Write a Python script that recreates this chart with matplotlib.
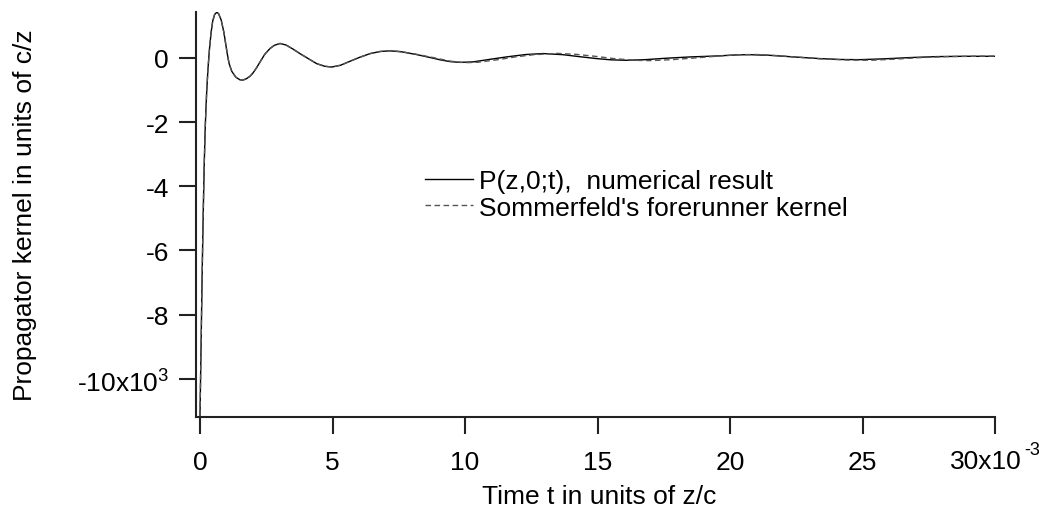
import numpy as np
import matplotlib
matplotlib.use("Agg")
import matplotlib.pyplot as plt
from matplotlib.ticker import FuncFormatter

plt.rcParams['font.family'] = ['Liberation Sans', 'DejaVu Sans']
plt.rcParams['mathtext.fontset'] = 'custom'
plt.rcParams['mathtext.rm'] = 'Liberation Sans'
plt.rcParams['axes.unicode_minus'] = False

# time in units of 1e-3 z/c, kernel in units of c/z
t_num = [0.0, 0.04, 0.08, 0.12, 0.16, 0.20, 0.25, 0.30, 0.36, 0.42, 0.48, 0.55,
         0.63, 0.70, 0.80, 0.90, 1.00, 1.05, 1.10, 1.20, 1.35, 1.50, 1.61, 1.75,
         1.89, 2.00, 2.14, 2.30, 2.45, 2.64, 2.80, 3.02, 3.25, 3.50, 3.77, 4.10,
         4.40, 4.70, 4.97, 5.30, 5.66, 6.00, 6.42, 6.80, 7.17, 7.60, 8.18, 8.80,
         9.06, 9.43, 9.81, 10.3, 10.9, 11.57, 12.3, 12.95, 13.7, 14.3, 14.97,
         15.5, 16.1, 16.8, 17.6, 18.5, 19.5, 20.3, 20.75, 21.5, 22.4, 23.4, 24.2,
         24.9, 25.8, 26.8, 27.8, 28.8, 30.0]
p_num = [-11150, -9000, -6800, -4900, -3300, -2100, -1100, -350, 300, 800, 1150, 1350,
         1420, 1380, 1180, 800, 280, 30, -180, -420, -600, -680, -695, -650,
         -570, -470, -300, -80, 120, 290, 390, 450, 400, 280, 134, -30,
         -178, -260, -285, -230, -106, 10, 134, 200, 220, 190, 103, -10,
         -60, -115, -140, -125, -50, 31, 105, 135, 100, 40, -22,
         -60, -75, -55, -10, 30, 60, 95, 100, 80, 30, -22, -50,
         -55, -30, 10, 40, 50, 50]

t_som = [0.0, 0.04, 0.08, 0.12, 0.16, 0.20, 0.25, 0.30, 0.36, 0.42, 0.48, 0.55,
         0.63, 0.70, 0.80, 0.90, 1.00, 1.05, 1.10, 1.20, 1.35, 1.50, 1.61, 1.75,
         1.89, 2.00, 2.14, 2.30, 2.45, 2.64, 2.80, 3.02, 3.25, 3.50, 3.77, 4.10,
         4.40, 4.70, 4.97, 5.30, 5.66, 6.00, 6.42, 6.80, 7.17, 7.60, 8.18, 8.80,
         9.43, 10.0, 10.5, 11.2, 11.9, 12.6, 13.5, 14.2, 14.9, 15.6, 16.4, 17.0,
         17.8, 18.7, 19.6, 20.4, 21.0, 21.8, 22.6, 23.4, 24.4, 25.3, 26.2, 27.2,
         28.2, 29.2, 30.0]
p_som = [-11150, -9000, -6800, -4900, -3300, -2100, -1100, -350, 300, 800, 1150, 1350,
         1420, 1380, 1180, 800, 280, 30, -180, -420, -600, -680, -695, -650,
         -570, -470, -300, -80, 120, 290, 390, 450, 400, 280, 134, -30,
         -178, -260, -285, -230, -106, 10, 134, 200, 225, 195, 110, 10,
         -100, -150, -135, -60, 30, 100, 140, 110, 50, -20, -75, -85,
         -55, 0, 60, 100, 105, 70, 20, -30, -65, -75, -40, 10,
         40, 50, 55]

xticks = [0, 5, 10, 15, 20, 25, 30]
yticks = [0, -2000, -4000, -6000, -8000, -10000]

fs = 19
W, H = 1039, 510
fig = plt.figure(figsize=(W / 100, H / 100), dpi=100)
ax = fig.add_axes([196 / W, (H - 418) / H, (995 - 196) / W, (418 - 13) / H])

t1 = np.array(t_num) * 1e-3
t2 = np.array(t_som) * 1e-3
ax.plot(t1, p_num, color='black', lw=1.0, label='P(z,0;t),  numerical result')
ax.plot(t2, p_som, color='#555555', lw=1.0, dashes=(4, 2.5),
        label="Sommerfeld's forerunner kernel")

ax.set_xlim(-0.151e-3, 30.0e-3)
ax.set_ylim(-11190, 1430)

ax.set_xticks(np.array(xticks) * 1e-3)
ax.set_yticks(yticks)


def fmt_x(v, pos):
    n = int(round(v * 1e3))
    if n == 30:
        return ''
    return str(n)


def fmt_y(v, pos):
    n = int(round(v / 1000))
    if n == -10:
        return '-10x10$^{3}$'
    return str(n)


ax.xaxis.set_major_formatter(FuncFormatter(fmt_x))
ax.yaxis.set_major_formatter(FuncFormatter(fmt_y))

# last x tick label with its exponent, placed like the original
ax.annotate('30x10', xy=(30e-3, 0), xycoords=('data', 'axes fraction'),
            xytext=(27 * 0.72, -44 * 0.72), textcoords='offset points',
            ha='right', va='center', fontsize=fs)
ax.annotate('-3', xy=(30e-3, 0), xycoords=('data', 'axes fraction'),
            xytext=(29 * 0.72, -33 * 0.72), textcoords='offset points',
            ha='left', va='center', fontsize=13)

for s in ['top', 'right']:
    ax.spines[s].set_visible(False)
for s in ['left', 'bottom']:
    ax.spines[s].set_linewidth(1.5)
    ax.spines[s].set_color('#222222')

ax.tick_params(axis='both', direction='out', length=12.5, width=1.5,
               color='#222222', labelsize=fs)
ax.tick_params(axis='x', pad=11)
ax.tick_params(axis='y', pad=7)

ax.set_xlabel('Time t in units of z/c', fontsize=fs)
ax.set_ylabel('Propagator kernel in units of c/z', fontsize=fs)
ax.xaxis.set_label_coords(0.505, -0.165)
ax.yaxis.set_label_coords(-0.199, 0.5)

leg = ax.legend(loc='upper left', bbox_to_anchor=(425 / W, (H - 170) / H),
                bbox_transform=fig.transFigure, frameon=False, fontsize=fs,
                handlelength=1.8, handletextpad=0.25, labelspacing=0.1,
                borderpad=0, borderaxespad=0)

fig.savefig('out.png', dpi=100)
